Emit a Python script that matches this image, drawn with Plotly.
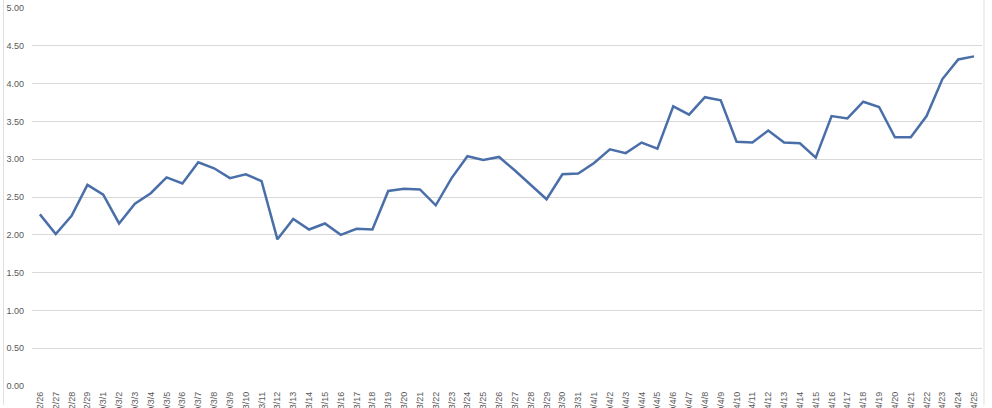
import plotly.graph_objects as go

dates = (["2020/2/%d" % d for d in range(26, 30)]
         + ["2020/3/%d" % d for d in range(1, 32)]
         + ["2020/4/%d" % d for d in range(1, 26)])

values = [2.27, 2.01, 2.25, 2.66, 2.53, 2.15, 2.41, 2.55, 2.76, 2.68,
          2.96, 2.88, 2.75, 2.80, 2.71, 1.94, 2.21, 2.07, 2.15, 2.00,
          2.08, 2.07, 2.58, 2.61, 2.60, 2.39, 2.75, 3.04, 2.99, 3.03,
          2.85, 2.66, 2.47, 2.80, 2.81, 2.95, 3.13, 3.08, 3.22, 3.14,
          3.70, 3.59, 3.82, 3.78, 3.23, 3.22, 3.38, 3.22, 3.21, 3.02,
          3.57, 3.54, 3.76, 3.69, 3.29, 3.29, 3.57, 4.06, 4.32, 4.36]

y_ticks = [0, 0.5, 1, 1.5, 2, 2.5, 3, 3.5, 4, 4.5, 5]
y_ticktext = ["%.2f" % v for v in y_ticks]

fig = go.Figure()
fig.add_trace(go.Scatter(
    x=list(range(len(dates))), y=values, mode="lines",
    line=dict(color="#4a6fa8", width=2.5),
    hoverinfo="skip", showlegend=False,
))

font = dict(family="Liberation Sans, Arial, sans-serif", size=9, color="#595959")

fig.update_layout(
    width=992, height=408, autosize=False,
    margin=dict(l=32, r=10, t=8, b=22),
    paper_bgcolor="white", plot_bgcolor="white",
    font=font,
    xaxis=dict(
        range=[-0.5, len(dates) - 0.5],
        tickmode="array", tickvals=list(range(len(dates))), ticktext=dates,
        tickangle=-90, showgrid=False, zeroline=False, showline=False,
        ticks="", automargin=False, tickfont=font, fixedrange=True,
        ticklabelstandoff=3,
    ),
    yaxis=dict(
        range=[0, 5], tickmode="array", tickvals=y_ticks, ticktext=y_ticktext,
        showgrid=True, gridcolor="#d9d9d9", gridwidth=1,
        zeroline=False, showline=False, ticks="", automargin=False,
        tickfont=font, fixedrange=True, ticklabelstandoff=7,
    ),
    shapes=[
        dict(type="line", xref="paper", yref="paper", x0=-0.03, x1=-0.03,
             y0=-0.05, y1=1.05, line=dict(color="#e0e0e0", width=1), layer="above"),
        dict(type="line", xref="paper", yref="paper", x0=1.0021, x1=1.0021,
             y0=-0.05, y1=1.05, line=dict(color="#e0e0e0", width=1), layer="above"),
    ],
)

fig.write_html("out.html",
               config={"displayModeBar": False, "staticPlot": True},
               post_script="document.body.style.margin='0';document.body.style.overflow='hidden';")
